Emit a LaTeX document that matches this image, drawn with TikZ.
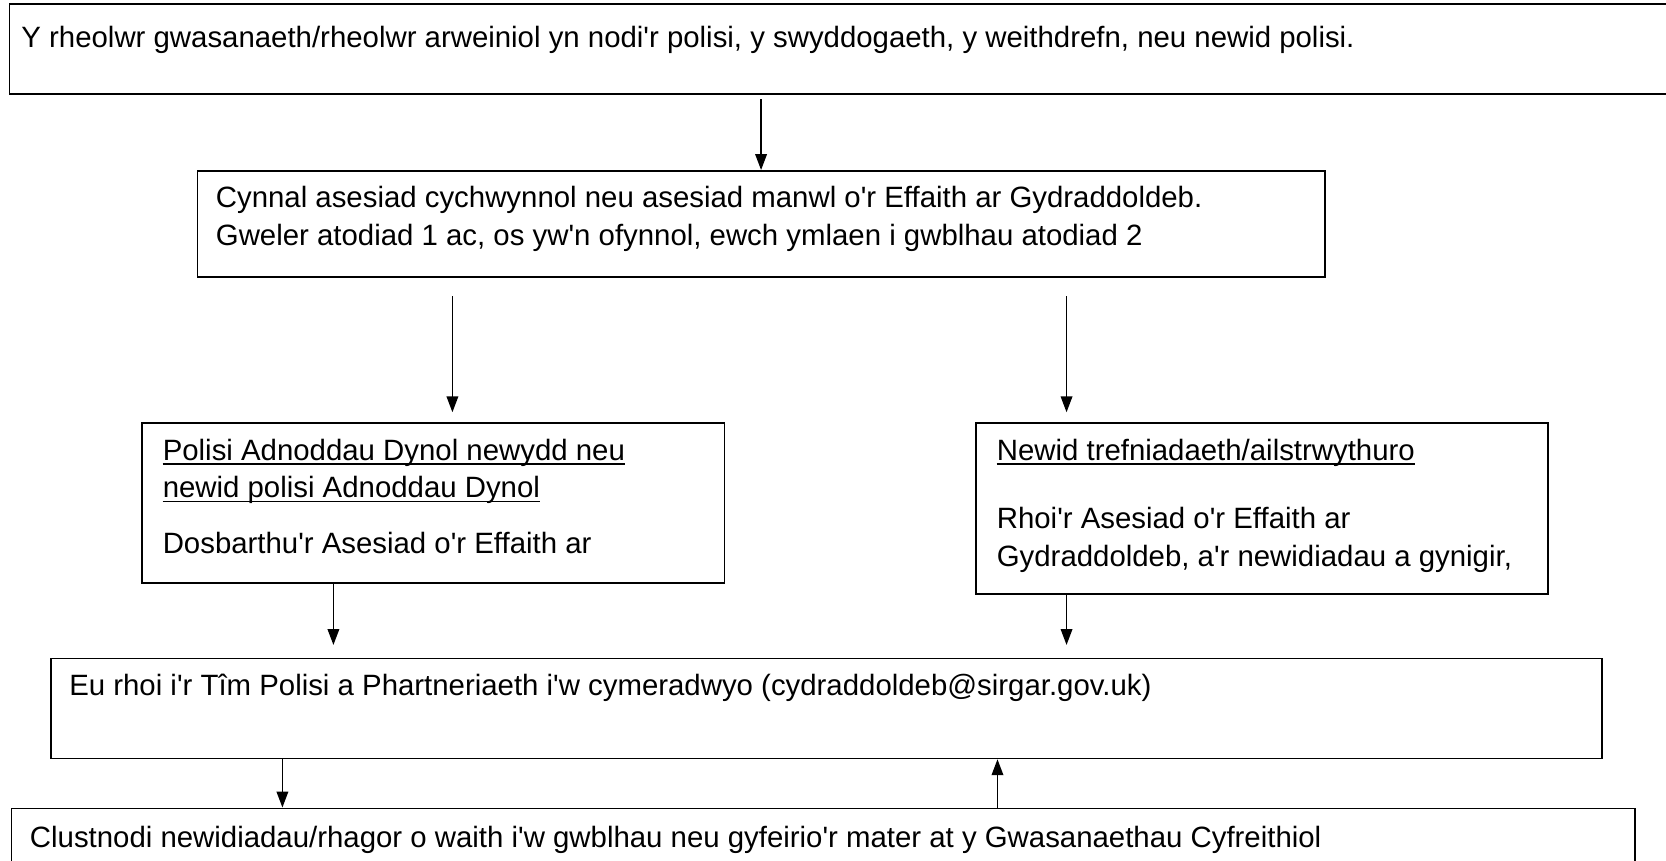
\documentclass[tikz,border=0pt]{standalone}
\usepackage{fontspec}
\setmainfont{Liberation Sans}
\usetikzlibrary{arrows.meta}
\newcommand{\collnod}{\textquotesingle}

\begin{document}
\begin{tikzpicture}[x=1pt, y=-1pt,
    blwch/.style={draw, line width=1.6pt, inner sep=0pt, anchor=north west},
    testun/.style={anchor=base west, inner sep=0pt, font=\fontsize{27.65}{35.5}\selectfont},
    saeth/.style={line width=1.3pt, -{Triangle[length=15pt, width=11pt]}}]
    \useasboundingbox (0,0) rectangle (1568,810);
    \clip (0,0) rectangle (1568,810);

    % Blociau
    \node[blwch, minimum width=1600pt, minimum height=85pt] (B1) at (8,3) {};
    \node[blwch, minimum width=1061pt, minimum height=100pt] (B2) at (185,160) {};
    \node[blwch, minimum width=548pt, minimum height=151pt] (B3) at (133,397) {};
    \node[blwch, minimum width=538pt, minimum height=161pt] (B4) at (918,397) {};
    \node[blwch, minimum width=1460pt, minimum height=94pt] (B5) at (47,619) {};
    \node[blwch, minimum width=1528pt, minimum height=100pt] (B6) at (10,760) {};

    % Testun
    \node[testun] (t1) at (20,45) {Y rheolwr gwasanaeth/rheolwr arweiniol yn nodi\collnod r polisi, y swyddogaeth, y weithdrefn, neu newid polisi.};
    \node[testun] (t2a) at (203,195) {Cynnal asesiad cychwynnol neu asesiad manwl o\collnod r Effaith ar Gydraddoldeb.};
    \node[testun] (t2b) at (203,231) {Gweler atodiad 1 ac, os yw\collnod n ofynnol, ewch ymlaen i gwblhau atodiad 2};
    \node[testun] (u1) at (153,433) {Polisi Adnoddau Dynol newydd neu};
    \node[testun] (u2) at (153,468) {newid polisi Adnoddau Dynol};
    \node[testun] (t3) at (153,521) {Dosbarthu\collnod r Asesiad o\collnod r Effaith ar};
    \node[testun] (u3) at (938,433) {Newid trefniadaeth/ailstrwythuro};
    \node[testun] (t4a) at (938,497) {Rhoi\collnod r Asesiad o\collnod r Effaith ar};
    \node[testun] (t4b) at (938,533) {Gydraddoldeb, a\collnod r newidiadau a gynigir,};
    \node[testun] (t5) at (65,655) {Eu rhoi i\collnod r Tîm Polisi a Phartneriaeth i\collnod w cymeradwyo (cydraddoldeb@sirgar.gov.uk)};
    \node[testun] (t6) at (28,798) {Clustnodi newidiadau/rhagor o waith i\collnod w gwblhau neu gyfeirio\collnod r mater at y Gwasanaethau Cyfreithiol};
    \foreach \n in {u1,u2,u3}
        \draw[line width=1.6pt] ([yshift=-4pt]\n.base west) -- ([yshift=-4pt]\n.base east);

    % Saethau
    \draw[saeth] ([yshift=-4pt]B2.north |- B1.south) -- (B2.north);
    \draw[saeth, shorten <=17pt, shorten >=9pt] ([xshift=18pt]B3.north |- B2.south) -- ([xshift=18pt]B3.north);
    \draw[saeth, shorten <=17pt, shorten >=9pt] ([xshift=-184pt]B4.north |- B2.south) -- ([xshift=-184pt]B4.north);
    \draw[saeth, shorten >=12pt] ([xshift=-94pt]B3.south) -- ([xshift=-94pt]B3.south |- B5.north);
    \draw[saeth, shorten >=12pt] ([xshift=-184pt]B4.south) -- ([xshift=-184pt]B4.south |- B5.north);
    \draw[saeth] ([xshift=-512pt]B5.south) -- ([xshift=-512pt]B5.south |- B6.north);
    \draw[saeth] ([xshift=161pt]B5.south |- B6.north) -- ([xshift=161pt]B5.south);
\end{tikzpicture}
\end{document}
